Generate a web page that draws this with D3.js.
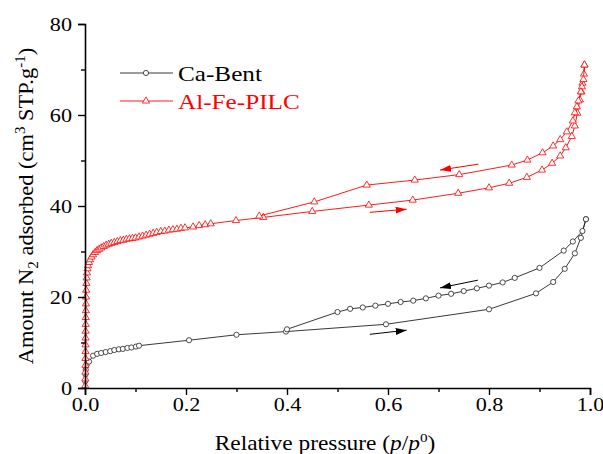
<!DOCTYPE html>
<html>
<head>
<meta charset="utf-8">
<script src="https://cdn.jsdelivr.net/npm/d3@7"></script>
<style>
  body { margin: 0; background: #fff; }
  text { font-family: "Liberation Serif", "Times New Roman", serif; }
</style>
</head>
<body>
<svg id="chart" width="603" height="454"></svg>
<script>
// Ca-Bent adsorption / desorption branches [p/p0, volume]
var caAds = [[0.0005,1.5],[0.001,3],[0.0015,4],[0.003,5.0],[0.008,5.8],[0.016,7.1],[0.024,7.5],
  [0.032,7.7],[0.041,7.9],[0.05,8.1],[0.058,8.35],[0.067,8.5],[0.075,8.6],[0.084,8.8],[0.092,8.9],
  [0.101,9.1],[0.107,9.3],[0.206,10.5],[0.30,11.7],[0.398,12.4],[0.596,14.0],[0.80,17.3],
  [0.893,20.8],[0.927,23.3],[0.95,26.2],[0.97,29.6],[0.982,33.0],[0.992,37.1]];
var caDes = [[0.992,37.1],[0.985,34.5],[0.966,32.2],[0.948,30.2],[0.90,26.4],[0.851,24.2],
  [0.827,23.2],[0.80,22.5],[0.776,21.9],[0.75,21.3],[0.725,20.7],[0.70,20.3],[0.675,19.7],
  [0.65,19.2],[0.625,18.9],[0.60,18.5],[0.575,18.1],[0.55,17.7],[0.525,17.4],[0.50,16.7],[0.40,12.9]];

// Al-Fe-PILC
var pilcAds = [[0.0005,0.5],[0.0006,2],[0.0007,3.5],[0.0008,5],[0.0009,6.5],[0.001,8],[0.0011,9.5],
  [0.0012,11],[0.0013,12.5],[0.0014,14],[0.0015,15.5],[0.0017,17],[0.0019,18.5],[0.0021,20],
  [0.0024,21.5],[0.0028,23],[0.0033,24.2],[0.004,25.3],[0.005,26.2],[0.006,26.9],[0.008,27.6],
  [0.010,28.2],[0.013,28.8],[0.016,29.3],[0.020,29.8],[0.024,30.2],[0.028,30.5],[0.032,30.8],
  [0.037,31.1],[0.042,31.4],[0.047,31.6],[0.052,31.8],[0.058,32.0],[0.064,32.2],[0.070,32.4],
  [0.076,32.5],[0.082,32.7],[0.088,32.8],[0.094,32.9],[0.100,33.0],[0.107,33.2],[0.114,33.4],
  [0.121,33.6],[0.128,33.8],[0.135,34.0],[0.142,34.2],[0.150,34.4],[0.158,34.5],[0.166,34.7],
  [0.174,34.8],[0.182,34.9],[0.190,35.1],[0.198,35.2],[0.214,35.4],[0.226,35.7],[0.238,35.9],
  [0.249,36.1],[0.299,36.8],[0.353,37.5],[0.45,38.8],[0.562,40.2],[0.649,41.3],[0.739,42.8],
  [0.80,44.0],[0.840,45.0],[0.875,46.3],[0.905,47.9],[0.925,49.4],[0.941,51.0],[0.952,52.8],
  [0.964,55.3],[0.970,57.6],[0.975,60.4],[0.980,63.3],[0.983,65.1],[0.985,67.0],[0.988,69.0],
  [0.989,71.0]];
var pilcDes = [[0.989,71.0],[0.987,67.8],[0.984,66.2],[0.982,65.1],[0.977,63.1],[0.974,61.8],
  [0.970,60.5],[0.966,58.7],[0.954,56.3],[0.941,54.6],[0.927,53.2],[0.906,51.7],[0.876,50.1],
  [0.845,49.0],[0.741,46.9],[0.653,45.7],[0.558,44.6],[0.454,40.9],[0.345,37.8]];

// direction arrows [from, to]
var caArrows = [[[0.778,23.7],[0.703,22.0]], [[0.564,11.8],[0.637,12.7]]];
var pilcArrows = [[[0.779,49.2],[0.703,47.9]], [[0.564,38.6],[0.637,39.3]]];

var xTicks = [0, 0.2, 0.4, 0.6, 0.8, 1.0];
var xMinor = [0.1, 0.3, 0.5, 0.7, 0.9];
var yTicks = [0, 20, 40, 60, 80];
var yMinor = [10, 30, 50, 70];

var stretch = 1.17; // the source picture is a bit wider than tall

var svg = d3.select("#chart");
var x = d3.scaleLinear().domain([0, 1]).range([85, 590]);
var y = d3.scaleLinear().domain([0, 80]).range([388, 24]);

var defs = svg.append("defs");
[["headBlack", "#000"], ["headRed", "#ff0000"]].forEach(function(m){
  defs.append("marker").attr("id", m[0])
    .attr("viewBox", "0 0 11 7").attr("refX", 11).attr("refY", 3.5)
    .attr("markerWidth", 11).attr("markerHeight", 7)
    .attr("markerUnits", "userSpaceOnUse").attr("orient", "auto")
    .append("path").attr("d", "M0,0L11,3.5L0,7Z").attr("fill", m[1]);
});

var line = d3.line().x(function(d){ return x(d[0]); }).y(function(d){ return y(d[1]); });

function drawSeries(data, color, kind){
  svg.append("path").datum(data).attr("d", line)
    .attr("fill", "none").attr("stroke", color).attr("stroke-width", 0.9);
  if (kind === "circle") {
    svg.append("g").selectAll("circle").data(data).enter().append("circle")
      .attr("cx", function(d){ return x(d[0]); }).attr("cy", function(d){ return y(d[1]); })
      .attr("r", 2.6).attr("fill", "#fff").attr("stroke", color).attr("stroke-width", 0.8);
  } else {
    svg.append("g").selectAll("path").data(data).enter().append("path")
      .attr("d", d3.symbol().type(d3.symbolTriangle).size(22))
      .attr("transform", function(d){ return "translate(" + x(d[0]) + "," + y(d[1]) + ")"; })
      .attr("fill", "#fff").attr("stroke", color).attr("stroke-width", 0.8);
  }
}

drawSeries(caAds, "#222", "circle");
drawSeries(caDes, "#222", "circle");
drawSeries(pilcAds, "#ff0000", "triangle");
drawSeries(pilcDes, "#ff0000", "triangle");

function drawArrows(list, color, head){
  list.forEach(function(a){
    svg.append("line")
      .attr("x1", x(a[0][0])).attr("y1", y(a[0][1]))
      .attr("x2", x(a[1][0])).attr("y2", y(a[1][1]))
      .attr("stroke", color).attr("stroke-width", 1)
      .attr("marker-end", "url(#" + head + ")");
  });
}
drawArrows(caArrows, "#000", "headBlack");
drawArrows(pilcArrows, "#ff0000", "headRed");

// axes
var xAxis = svg.append("g").attr("transform", "translate(0,388)")
  .call(d3.axisBottom(x).tickValues(xTicks).tickFormat(d3.format(".1f")).tickSize(7).tickPadding(3));
svg.append("g").attr("transform", "translate(0,388)")
  .call(d3.axisBottom(x).tickValues(xMinor).tickFormat("").tickSize(4))
  .select(".domain").remove();
var yAxis = svg.append("g").attr("transform", "translate(85,0)")
  .call(d3.axisLeft(y).tickValues(yTicks).tickSize(7));
svg.append("g").attr("transform", "translate(85,0)")
  .call(d3.axisLeft(y).tickValues(yMinor).tickFormat("").tickSize(4))
  .select(".domain").remove();

svg.selectAll(".domain").attr("stroke", "#000").attr("stroke-width", 1.6);
svg.selectAll(".tick line").attr("stroke", "#000").attr("stroke-width", 1.4);
xAxis.selectAll("text").attr("font-size", 19).attr("fill", "#000")
  .attr("font-family", "Liberation Serif")
  .attr("transform", "scale(" + stretch + ",1)");
yAxis.selectAll("text").attr("font-size", 19).attr("fill", "#000")
  .attr("font-family", "Liberation Serif")
  .attr("x", -13 / stretch)
  .attr("transform", "scale(" + stretch + ",1)");

// axis titles
var xt = svg.append("text").attr("x", 325 / stretch).attr("y", 450).attr("text-anchor", "middle")
  .attr("transform", "scale(" + stretch + ",1)")
  .attr("font-size", 20).attr("fill", "#000");
xt.append("tspan").text("Relative pressure (");
xt.append("tspan").attr("font-style", "italic").text("p");
xt.append("tspan").text("/");
xt.append("tspan").attr("font-style", "italic").text("p");
xt.append("tspan").attr("font-size", 13).attr("dy", -8).text("0");
xt.append("tspan").attr("dy", 8).text(")");

var yt = svg.append("text").attr("transform", "translate(33,206) rotate(-90) scale(1.07,1)")
  .attr("text-anchor", "middle").attr("font-size", 21).attr("fill", "#000");
yt.append("tspan").text("Amount N");
yt.append("tspan").attr("font-size", 14).attr("dy", 5).text("2");
yt.append("tspan").attr("dy", -5).text(" adsorbed (cm");
yt.append("tspan").attr("font-size", 14).attr("dy", -8).text("3");
yt.append("tspan").attr("dy", 8).text(" STP.g");
yt.append("tspan").attr("font-size", 14).attr("dy", -8).text("-1");
yt.append("tspan").attr("dy", 8).text(")");

// legend
var legendNames = ["Ca-Bent", "Al-Fe-PILC"];
var legendColors = ["#222", "#ff0000"];
var legend = svg.append("g");
legendNames.forEach(function(name, i){
  var ly = 73 + i * 28;
  legend.append("line").attr("x1", 120).attr("x2", 173).attr("y1", ly).attr("y2", ly)
    .attr("stroke", legendColors[i]).attr("stroke-width", 0.9);
  if (i === 0) {
    legend.append("circle").attr("cx", 146).attr("cy", ly).attr("r", 2.6)
      .attr("fill", "#fff").attr("stroke", legendColors[i]).attr("stroke-width", 0.8);
  } else {
    legend.append("path").attr("d", d3.symbol().type(d3.symbolTriangle).size(22))
      .attr("transform", "translate(146," + ly + ")")
      .attr("fill", "#fff").attr("stroke", legendColors[i]).attr("stroke-width", 0.8);
  }
  legend.append("text").attr("x", 178 / 1.2).attr("y", ly + 8).attr("font-size", 21)
    .attr("transform", "scale(1.2,1)")
    .attr("fill", i === 0 ? "#000" : "#ff0000").text(name);
});
</script>
</body>
</html>
